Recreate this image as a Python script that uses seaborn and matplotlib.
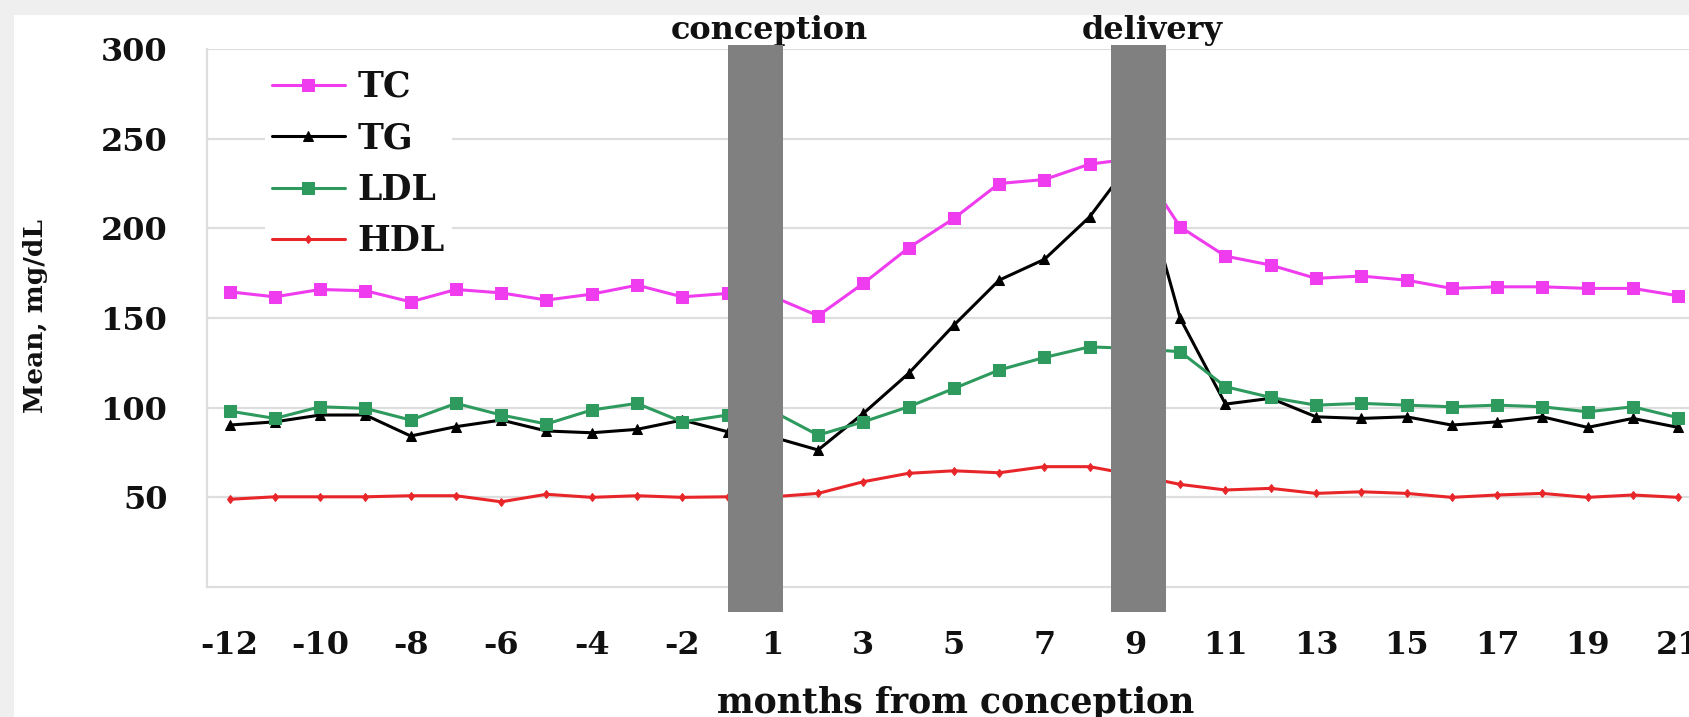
import numpy as np
import pandas as pd
import matplotlib
matplotlib.use("Agg")
import matplotlib.pyplot as plt
import matplotlib.transforms as mtransforms
from matplotlib.patches import Rectangle
import seaborn as sns

# ---------------- data ----------------
months = list(range(-12, 0)) + list(range(1, 22))
tick_labels = [str(m) for m in months]

tc = [164.6, 161.8, 165.9, 165.2, 159.0, 165.9, 164.0, 160.0, 163.3, 168.3, 161.8, 163.7,
      162.0, 151.2, 169.3, 189.1, 205.5, 225.0, 227.2, 235.8, 239.0, 200.8, 184.5, 179.5,
      172.1, 173.4, 171.1, 166.5, 167.4, 167.4, 166.5, 166.5, 162.4]
tg = [90.3, 92.1, 95.9, 95.9, 84.2, 89.4, 93.1, 87.0, 86.0, 87.9, 93.1, 86.6,
      83.6, 76.4, 96.8, 119.1, 146.0, 171.1, 182.7, 206.4, 240.0, 149.8, 102.0, 105.2,
      94.9, 94.0, 94.9, 90.3, 92.1, 94.9, 89.0, 94.0, 89.0]
ldl = [98.1, 94.0, 100.5, 99.6, 93.1, 102.4, 95.9, 90.9, 98.7, 102.4, 92.1, 95.9,
       98.0, 84.7, 92.1, 100.5, 110.7, 121.0, 128.0, 133.9, 133.0, 131.2, 111.7, 105.7,
       101.4, 102.4, 101.4, 100.5, 101.4, 100.5, 97.7, 100.5, 94.4]
hdl = [48.9, 50.3, 50.3, 50.3, 50.9, 50.9, 47.5, 51.7, 50.0, 50.9, 50.0, 50.3,
       50.3, 52.2, 58.7, 63.4, 64.8, 63.7, 67.1, 67.1, 62.4, 57.2, 54.1, 55.0,
       52.2, 53.1, 52.2, 50.0, 51.3, 52.2, 50.0, 51.3, 50.0]

series_names = ["TC", "TG", "LDL", "HDL"]
series_values = [tc, tg, ldl, hdl]
events = ["conception", "delivery"]
event_months = [1, 9]
y_ticks = [50, 100, 150, 200, 250, 300]

# ---------------- style ----------------
series_colors = {"TC": "#EE3CEE", "TG": "#000000", "LDL": "#2E9A5E", "HDL": "#E8262A"}
series_markers = {"TC": "s", "TG": "^", "LDL": "s", "HDL": "d"}
series_msize = {"TC": 8, "TG": 6.5, "LDL": 8, "HDL": 4.5}
event_offsets = [-0.38, 0.08]

sns.set_style("white")
plt.rcParams["font.family"] = ["DejaVu Serif"]
plt.rcParams["font.weight"] = "bold"

W, H = 1689, 717
fig = plt.figure(figsize=(W / 100, H / 100), dpi=100, facecolor="#efefef")
fig.patches.append(Rectangle((14 / W, 0), 1, 1 - 15 / H, transform=fig.transFigure,
                             facecolor="white", edgecolor="none", zorder=-10))

x0_px, x_end_px = 207, 1703
y_top_px, y_bot_px = 49, 587
ax = fig.add_axes([x0_px / W, 1 - y_bot_px / H, (x_end_px - x0_px) / W, (y_bot_px - y_top_px) / H])
ax.set_facecolor("none")

idx = np.arange(len(months))
df = pd.DataFrame({
    "idx": np.tile(idx, len(series_names)),
    "value": np.concatenate(series_values),
    "series": np.repeat(series_names, len(months)),
})

for name in series_names:
    c = series_colors[name]
    sns.lineplot(data=df[df["series"] == name], x="idx", y="value", ax=ax,
                 color=c, marker=series_markers[name], markersize=series_msize[name],
                 markeredgecolor=c, markerfacecolor=c, linewidth=2.2, label=name, zorder=3)

# event bars
ev_pos = [months.index(m) + off for m, off in zip(event_months, event_offsets)]
ax.bar(ev_pos, [316] * len(ev_pos), bottom=-14, width=1.21, color="#808080",
       zorder=5, clip_on=False, linewidth=0)
btrans = mtransforms.blended_transform_factory(ax.transData, fig.transFigure)
for name, p in zip(events, ev_pos):
    ax.text(p + 0.3, 1 - 30 / H, name, transform=btrans, ha="center", va="center",
            fontsize=23, fontweight="bold", color="#111111")

# axes
ax.set_xlim(-0.463, 32.55)
ax.set_ylim(0, 300)
ax.set_xlabel("")
ax.set_ylabel("")
grid_c = "#dedede"
ax.yaxis.grid(True, color=grid_c, linewidth=1.6)
ax.xaxis.grid(False)
ax.set_axisbelow(True)
for s in ["top", "right"]:
    ax.spines[s].set_visible(False)
for s in ["left", "bottom"]:
    ax.spines[s].set_color(grid_c)
    ax.spines[s].set_linewidth(1.6)

ax.set_yticks(y_ticks)
ax.set_yticklabels([str(v) for v in y_ticks])
ax.tick_params(axis="y", length=11.5, width=1.6, color=grid_c, pad=17, labelsize=23,
               labelcolor="#111111")

ax.set_xticks(np.arange(-0.5, len(months) + 0.5, 1.0))
ax.set_xticklabels([])
ax.tick_params(axis="x", which="major", length=9.5, width=1.4, color=grid_c, direction="out")
lab_idx = idx[::2]
ax.set_xticks(lab_idx, minor=True)
ax.set_xticklabels([tick_labels[i] for i in lab_idx], minor=True)
ax.tick_params(axis="x", which="minor", length=0, pad=31, labelsize=23, labelcolor="#111111")

handles, labels = ax.get_legend_handles_labels()
leg = ax.legend(handles, labels, loc="upper left", bbox_to_anchor=(265 / W, 1 - 63 / H),
                bbox_transform=fig.transFigure, frameon=True, facecolor="white",
                edgecolor="none", framealpha=1, borderaxespad=0, borderpad=0.2,
                handlelength=2.1, handletextpad=0.36, labelspacing=0.5, fontsize=25)
leg.set_zorder(6)
for t in leg.get_texts():
    t.set_fontweight("bold")
    t.set_color("#111111")

fig.text(956 / W, 1 - 703 / H, "months from conception", ha="center", va="center",
         fontsize=25, fontweight="bold", color="#111111")
fig.text(36 / W, 1 - 316 / H, "Mean, mg/dL", rotation=90, ha="center", va="center",
         fontsize=19, fontweight="bold", color="#111111")

fig.savefig("out.png", dpi=100, facecolor=fig.get_facecolor())
